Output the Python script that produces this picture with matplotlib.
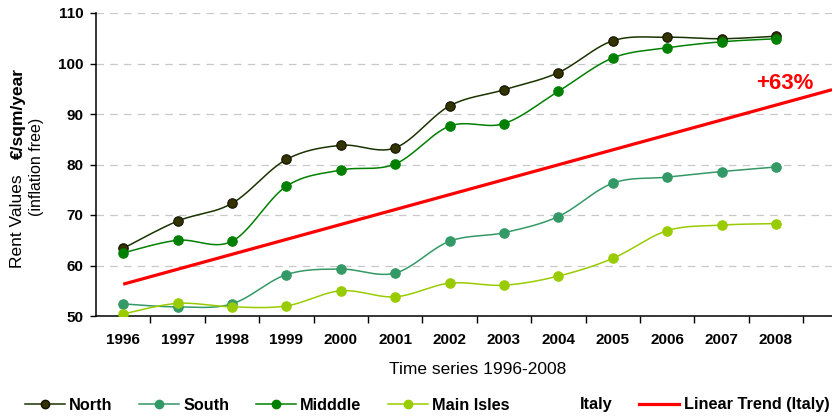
import numpy as np
import matplotlib
matplotlib.use("Agg")
import matplotlib.pyplot as plt
from matplotlib.lines import Line2D

plt.rcParams['font.family'] = ['Liberation Sans', 'DejaVu Sans']

years = ["1996", "1997", "1998", "1999", "2000", "2001", "2002",
         "2003", "2004", "2005", "2006", "2007", "2008"]
north = [63.4, 68.8, 72.3, 81.0, 83.8, 83.3, 91.6, 94.8, 98.2, 104.5, 105.2, 104.9, 105.4]
south = [52.4, 51.8, 52.4, 58.2, 59.3, 58.5, 64.8, 66.5, 69.7, 76.3, 77.5, 78.6, 79.5]
middle = [62.5, 65.0, 64.8, 75.7, 78.9, 80.1, 87.6, 88.1, 94.5, 101.1, 103.1, 104.3, 104.9]
main_isles = [50.4, 52.5, 51.8, 52.0, 55.0, 53.8, 56.5, 56.1, 57.9, 61.4, 66.9, 68.0, 68.3]
trend_start = 56.3      # linear trend (Italy) value in 1996
trend_growth = 0.63     # growth of the trend 1996 -> 2008
y_ticks = [50, 60, 70, 80, 90, 100, 110]


def smooth(xs, ys, n=24, tension=0.5):
    """Cardinal-spline smoothing through every data point."""
    xs = np.asarray(xs, float)
    ys = np.asarray(ys, float)
    px = np.concatenate([[xs[0]], xs, [xs[-1]]])
    py = np.concatenate([[ys[0]], ys, [ys[-1]]])
    out_x, out_y = [], []
    t = np.linspace(0, 1, n, endpoint=False)
    for i in range(1, len(px) - 2):
        p0, p1, p2, p3 = (np.array([px[j], py[j]]) for j in range(i - 1, i + 3))
        m1 = tension * (p2 - p0)
        m2 = tension * (p3 - p1)
        h00 = 2 * t**3 - 3 * t**2 + 1
        h10 = t**3 - 2 * t**2 + t
        h01 = -2 * t**3 + 3 * t**2
        h11 = t**3 - t**2
        pts = (np.outer(h00, p1) + np.outer(h10, m1) + np.outer(h01, p2) + np.outer(h11, m2))
        out_x.extend(pts[:, 0])
        out_y.extend(pts[:, 1])
    out_x.append(xs[-1])
    out_y.append(ys[-1])
    return np.array(out_x), np.array(out_y)


fig = plt.figure(figsize=(8.32, 4.18), dpi=100)
ax = fig.add_axes([96 / 832, 1 - 316 / 418, 1 - 96 / 832, (316 - 13) / 418])

x = np.arange(len(years))
xmax = 13.03
ax.set_xlim(-0.5, xmax)
ax.set_ylim(50, 110)

ax.yaxis.grid(True, color='#c8c8c8', linestyle=(0, (6, 5)), linewidth=0.9)
ax.set_axisbelow(True)

series = [
    ("North", north, '#1a3300', '#333300', '#111100'),
    ("South", south, '#339966', '#339966', '#339966'),
    ("Midddle", middle, '#008000', '#008000', '#008000'),
    ("Main Isles", main_isles, '#99cc00', '#99cc00', '#99cc00'),
]

handles = []
for name, vals, lc, mfc, mec in series:
    sx, sy = smooth(x, vals)
    ax.plot(sx, sy, color=lc, linewidth=1.1, zorder=3)
    ax.plot(x, vals, linestyle='none', marker='o', markersize=6.8,
            markerfacecolor=mfc, markeredgecolor=mec, markeredgewidth=0.8, zorder=4)
    handles.append(Line2D([], [], color=lc, linewidth=1.1, marker='o', markersize=6,
                          markerfacecolor=mfc, markeredgecolor=mec, label=name))

# linear trend, extended forward to the axis edge
slope = trend_start * trend_growth / (len(years) - 1)
tx = np.array([0, xmax])
ax.plot(tx, trend_start + slope * tx, color='#ff0000', linewidth=2.3, zorder=2,
        solid_capstyle='butt')
ax.text(12.16, trend_start + slope * 12.5 + 2.8, "+63%", color='#ff0000',
        fontsize=16, fontweight='bold', ha='center', va='center')

handles.append(Line2D([], [], linestyle='none', label="Italy"))
handles.append(Line2D([], [], color='#ff0000', linewidth=2.3, label="Linear Trend (Italy)"))

ax.set_yticks(y_ticks)
ax.set_xticks(x)
ax.set_xticklabels(years)
ax.set_xticks(np.arange(-0.5, 13, 1)[1:], minor=True)
ax.tick_params(axis='x', which='major', length=0, pad=12, labelsize=11)
ax.tick_params(axis='x', which='minor', length=5, direction='out', width=1)
ax.tick_params(axis='y', length=4, direction='out', width=1, pad=5, labelsize=11)
for lab in ax.get_xticklabels() + ax.get_yticklabels():
    lab.set_fontweight('bold')

for s in ('top', 'right'):
    ax.spines[s].set_visible(False)
for s in ('left', 'bottom'):
    ax.spines[s].set_linewidth(1.1)

# y axis title: regular part and bold unit part, rotated
fig.text(18 / 832, 1 - 268 / 418, "Rent Values", rotation=90, fontsize=12.5,
         ha='center', va='bottom')
fig.text(18 / 832, 1 - 68 / 418, "€/sqm/year", rotation=90, fontsize=12.5,
         fontweight='bold', ha='center', va='top')
fig.text(37 / 832, 1 - 167 / 418, "(inflation free)", rotation=90, fontsize=11.5,
         ha='center', va='center')

fig.text(478 / 832, 1 - 370 / 418, "Time series 1996-2008", fontsize=12.5,
         ha='center', va='center')

leg = fig.legend(handles=handles, ncol=6, loc='center left',
                 bbox_to_anchor=(25 / 832, 1 - 405 / 418), frameon=False,
                 prop={'weight': 'bold', 'size': 11.7}, handlelength=2.45,
                 handletextpad=0.28, columnspacing=1.62, borderaxespad=0, borderpad=0)

fig.savefig("out.png", dpi=100)
